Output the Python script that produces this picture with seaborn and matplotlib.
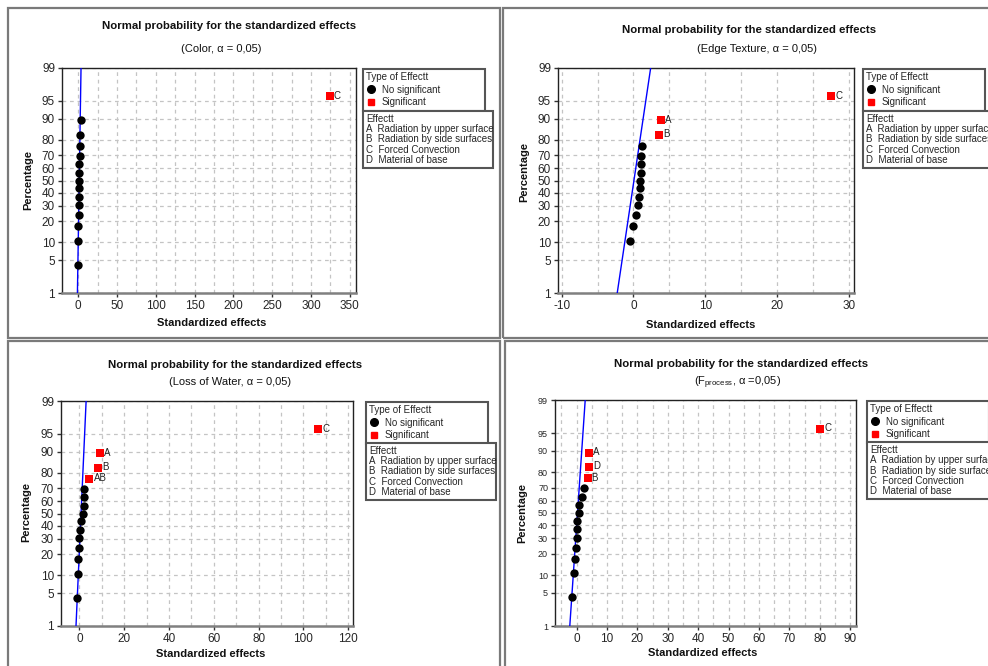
import numpy as np
import pandas as pd
import matplotlib
matplotlib.use("Agg")
import matplotlib.pyplot as plt
import seaborn as sns
from matplotlib.lines import Line2D
from matplotlib.patches import Rectangle
from statistics import NormalDist

sns.set_theme(style="white")
plt.rcParams['font.family'] = ['Liberation Sans', 'DejaVu Sans']
plt.rcParams['axes.unicode_minus'] = False

# ---------------- data ----------------
N_EFFECTS = 15
title_text = "Normal probability for the standardized effects"
subtitles = ["(Color, α = 0,05)", "(Edge Texture, α = 0,05)",
             "(Loss of Water, α = 0,05)", "(F$_{\\mathregular{process}}$, α =0,05)"]

# sorted standardized effects (ranks start at rank_start)
color_effects = [-1.0, -0.8, -0.6, 0.3, 0.4, 0.6, 1.2, 1.3, 1.4, 1.5, 2.0, 2.2, 2.4, 3.4, 324.0]
color_labels = [""] * 14 + ["C"]
color_sig = [False] * 14 + [True]

edge_effects = [-0.46, -0.09, 0.32, 0.70, 0.84, 0.88, 0.97, 0.99, 1.11, 1.12, 1.13, 3.62, 3.85, 27.5]
edge_labels = [""] * 11 + ["B", "A", "C"]
edge_sig = [False] * 11 + [True] * 3

water_effects = [-1.2, -0.74, -0.72, -0.3, 0.0, 0.45, 0.74, 1.6, 2.1, 2.15, 2.2, 4.5, 8.3, 9.2, 106.6]
water_labels = [""] * 11 + ["AB", "B", "A", "C"]
water_sig = [False] * 11 + [True] * 4

fproc_effects = [-1.43, -0.77, -0.55, -0.33, -0.02, 0.0, 0.02, 0.66, 0.88, 1.65, 2.3, 3.6, 3.95, 4.17, 80.1]
fproc_labels = [""] * 11 + ["B", "D", "A", "C"]
fproc_sig = [False] * 11 + [True] * 4

rank_starts = [1, 2, 1, 1]
line_mu = [1.2, 0.07, 0.75, 0.3]
line_sd = [1.0, 1.0, 0.97, 1.09]

xticks = [list(range(0, 351, 50)), list(range(-10, 31, 10)),
          list(range(0, 121, 20)), list(range(0, 91, 10))]
xgrid_step = [25, 5, 10, 5]
xlims = [(-21, 358), (-10.5, 30.7), (-8.2, 122.1), (-7.1, 91.9)]
ytick_pct = [1, 5, 10, 20, 30, 40, 50, 60, 70, 80, 90, 95, 99]

legend_effects = ["A  Radiation by upper surface", "B  Radiation by side surfaces",
                  "C  Forced Convection", "D  Material of base"]

panels = [
    (color_effects, color_labels, color_sig),
    (edge_effects, edge_labels, edge_sig),
    (water_effects, water_labels, water_sig),
    (fproc_effects, fproc_labels, fproc_sig),
]

# ---------------- layout (pixels) ----------------
W, H = 988, 666
fig = plt.figure(figsize=(W / 100, H / 100), dpi=100)
fig.patch.set_facecolor("white")

def fx(px):
    return px / W

def fy(py):
    return 1 - py / H

axes_px = [(62, 356, 68, 293), (558, 854, 68, 293), (61, 353, 401, 626), (555, 856, 400, 626)]
panel_px = [(8, 500, 8, 338), (503, 1000, 8, 338), (8, 500, 341, 680), (505, 1000, 341, 680)]
title_pos = [(229, 26), (749, 30), (235, 365), (741, 364)]
sub_pos = [(221, 49), (757, 49), (230, 382), (738, 383)]
xlabel_pos = [(212, 323), (701, 325), (211, 654), (703, 653)]
ylabel_pos = [(28, 180), (524, 172), (26, 512), (522, 513)]
leg1_pos = [(363, 69), (863, 69), (366, 402), (867, 401)]
leg2_pos = [(363, 111), (863, 111), (366, 443), (867, 442)]
leg1_w = 122
leg2_w = 130

nd = NormalDist()
ylo, yhi = nd.inv_cdf(0.01), nd.inv_cdf(0.99)

for (l, r, t, b) in panel_px:
    fig.add_artist(Rectangle((fx(l), fy(b)), fx(r - l), (b - t) / H,
                             transform=fig.transFigure, fill=False,
                             edgecolor="#7a7a7a", linewidth=1.6))

for i, (vals, labs, sig) in enumerate(panels):
    l, r, t, b = axes_px[i]
    ax = fig.add_axes([fx(l), fy(b), fx(r - l), (b - t) / H])
    n = len(vals)
    ranks = np.arange(rank_starts[i], rank_starts[i] + n)
    pct = (ranks - 0.375) / (N_EFFECTS + 0.25)
    z = [nd.inv_cdf(p) for p in pct]
    df = pd.DataFrame({"effect": vals, "z": z, "label": labs,
                       "type": ["Significant" if s else "No significant" for s in sig]})

    # fitted normal line
    zl = np.array([ylo, yhi])
    ldf = pd.DataFrame({"x": line_mu[i] + line_sd[i] * zl, "z": zl})
    sns.lineplot(data=ldf, x="x", y="z", ax=ax, color="#0000ff", linewidth=1.0,
                 sort=False, zorder=3)

    ns = df[df["type"] == "No significant"]
    sg = df[df["type"] == "Significant"]
    sns.scatterplot(data=ns, x="effect", y="z", ax=ax, marker="o", s=36,
                    color="black", edgecolor="black", linewidth=0, zorder=4)
    sns.scatterplot(data=sg, x="effect", y="z", ax=ax, marker="s", s=28,
                    color="#ff0000", edgecolor="#ff0000", linewidth=0, zorder=4)
    for _, row in sg.iterrows():
        ax.annotate(row["label"], (row["effect"], row["z"]), xytext=(3, 0.5),
                    textcoords="offset points", fontsize=7, va="center", ha="left",
                    color="#222222")

    ax.set_xlim(*xlims[i])
    ax.set_ylim(ylo, yhi)
    ax.set_xticks(xticks[i])
    step = xgrid_step[i]
    gstart = np.ceil(xlims[i][0] / step) * step
    ax.set_xticks(np.arange(gstart, xlims[i][1], step), minor=True)
    ax.set_yticks([nd.inv_cdf(p / 100) for p in ytick_pct])
    ax.set_yticklabels([str(p) for p in ytick_pct], fontsize=6.5 if i == 3 else 8.5)
    ax.tick_params(axis="x", labelsize=8.5, length=3, width=1, color="#333333",
                   direction="out", pad=2, bottom=True)
    ax.tick_params(axis="x", which="minor", length=0)
    ax.tick_params(axis="y", length=3, width=1, color="#333333", direction="out",
                   pad=2, left=True)
    ax.grid(True, which="both", axis="x", color="#c4c4c4", linestyle=(0, (3, 3)),
            linewidth=0.9)
    ax.grid(True, which="major", axis="y", color="#c4c4c4", linestyle=(0, (3, 3)),
            linewidth=0.9)
    ax.set_axisbelow(True)
    for sname, sp in ax.spines.items():
        sp.set_visible(True)
        sp.set_color("#222222")
        sp.set_linewidth(1.0)
    ax.spines["bottom"].set_color("#808080")
    ax.spines["bottom"].set_linewidth(1.8)
    ax.set_xlabel("")
    ax.set_ylabel("")

    fig.text(fx(title_pos[i][0]), fy(title_pos[i][1]), title_text, ha="center",
             va="center", fontsize=8.2, fontweight="bold", color="#111111")
    fig.text(fx(sub_pos[i][0]), fy(sub_pos[i][1]), subtitles[i], ha="center",
             va="center", fontsize=8, color="#111111")
    fig.text(fx(xlabel_pos[i][0]), fy(xlabel_pos[i][1]), "Standardized effects",
             ha="center", va="center", fontsize=8, fontweight="bold", color="#111111")
    fig.text(fx(ylabel_pos[i][0]), fy(ylabel_pos[i][1]), "Percentage",
             ha="center", va="center", fontsize=8, fontweight="bold", rotation=90,
             color="#111111")

    # legends
    h1 = [Line2D([], [], marker="o", color="black", linestyle="none", markersize=5.5),
          Line2D([], [], marker="s", color="#ff0000", linestyle="none", markersize=4.5)]
    lg1 = fig.legend(h1, ["No significant", "Significant"], title="Type of Effectt",
                     loc="upper left",
                     bbox_to_anchor=(fx(leg1_pos[i][0]), fy(leg1_pos[i][1]) - 0.01,
                                     fx(leg1_w), 0.01),
                     mode="expand",
                     bbox_transform=fig.transFigure, fontsize=7, title_fontsize=7,
                     alignment="left", frameon=True, fancybox=False, framealpha=1,
                     edgecolor="#555555", borderpad=0.35, labelspacing=0.25,
                     handlelength=1.0, handletextpad=0.6, borderaxespad=0)
    lg1.get_frame().set_linewidth(1.5)
    h2 = [Line2D([], [], linestyle="none") for _ in legend_effects]
    lg2 = fig.legend(h2, legend_effects, title="Effectt",
                     loc="upper left",
                     bbox_to_anchor=(fx(leg2_pos[i][0]), fy(leg2_pos[i][1]) - 0.01,
                                     fx(leg2_w), 0.01),
                     mode="expand",
                     bbox_transform=fig.transFigure, fontsize=7, title_fontsize=7,
                     alignment="left", frameon=True, fancybox=False, framealpha=1,
                     edgecolor="#555555", borderpad=0.3, labelspacing=0.03,
                     handlelength=0, handletextpad=0, borderaxespad=0)
    lg2.get_frame().set_linewidth(1.5)

fig.savefig("out.png", dpi=100)
